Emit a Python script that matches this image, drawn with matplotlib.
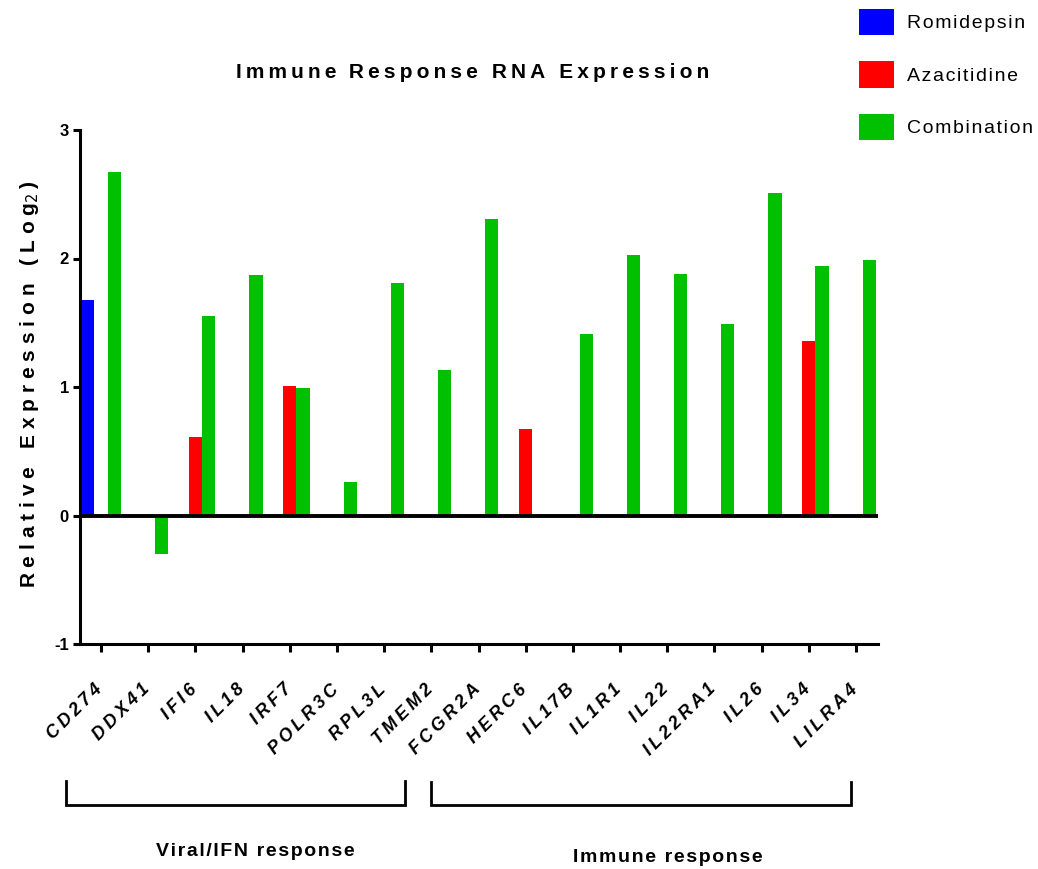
import numpy as np
import matplotlib
matplotlib.use("Agg")
import matplotlib.pyplot as plt
from matplotlib.lines import Line2D
from matplotlib.transforms import ScaledTranslation

plt.rcParams["font.family"] = ["Liberation Sans", "DejaVu Sans"]

# log2 relative expression per gene; nan = not reported for that treatment
genes = ["CD274", "DDX41", "IFI6", "IL18", "IRF7", "POLR3C", "RPL3L", "TMEM2",
         "FCGR2A", "HERC6", "IL17B", "IL1R1", "IL22", "IL22RA1", "IL26",
         "IL34", "LILRA4"]
nan = np.nan
romidepsin = [1.68, nan, nan, nan, nan, nan, nan, nan,
              nan, nan, nan, nan, nan, nan, nan, nan, nan]
azacitidine = [nan, nan, 0.61, nan, 1.01, nan, nan, nan,
               nan, 0.67, nan, nan, nan, nan, nan, 1.36, nan]
combination = [2.67, -0.30, 1.55, 1.87, 0.99, 0.26, 1.81, 1.13,
               2.31, nan, 1.41, 2.03, 1.88, 1.49, 2.51, 1.94, 1.99]
series = ["Romidepsin", "Azacitidine", "Combination"]
colors = ["#0000ff", "#ff0000", "#00c000"]
groups = ["Viral/IFN response", "Immune response"]

THIN = "\u2009"
HAIR = "\u200a"


def spaced(s, sep=THIN):
    return sep.join(s)


W, H = 1038, 869
fig = plt.figure(figsize=(W / 100, H / 100), dpi=100)
ax = fig.add_axes([80 / W, 1 - 644 / H, 798 / W, 514 / H])

x = np.arange(len(genes))
bw = 0.282
for k, (vals, c, name) in enumerate(zip([romidepsin, azacitidine, combination],
                                        colors, series)):
    ax.bar(x + (k - 1) * bw, vals, width=bw, color=c, edgecolor="none",
           label=spaced(name, HAIR), zorder=2)

ax.axhline(0, color="k", lw=2.8, zorder=3)
ax.set_xlim(-0.445, 16.466)
ax.set_ylim(-1, 3)
ax.set_yticks([-1, 0, 1, 2, 3])
ax.set_yticklabels(["-1", "0", "1", "2", "3"], fontsize=12, fontweight="bold")
ax.set_xticks(x)
ax.set_xticklabels([])
for s in ["top", "right"]:
    ax.spines[s].set_visible(False)
for s in ["left", "bottom"]:
    ax.spines[s].set_linewidth(2.2)
ax.tick_params(axis="y", width=2.2, length=5, pad=3)
ax.tick_params(axis="x", width=2.2, length=6)

# slanted gene names, right end placed just under each tick
lbl_tr = ax.get_xaxis_transform() + ScaledTranslation(-7 / 100, -37 / 100,
                                                      fig.dpi_scale_trans)
for xi, g in zip(x, genes):
    ax.text(xi, 0, spaced(g), transform=lbl_tr, rotation=45, ha="right",
            va="top", rotation_mode="anchor", fontsize=13, fontweight="bold",
            fontstyle="italic")

fig.text(473 / W, 1 - 72 / H, spaced("Immune") + THIN * 3 + spaced("Response RNA Expression"),
         ha="center", va="center", fontsize=15, fontweight="bold")
fig.text(30 / W, 1 - 384 / H,
         spaced("Relative Expression (Log", THIN + HAIR) + "$_{2}$" + THIN + ")",
         rotation=90, ha="center", va="center", fontsize=15, fontweight="bold")

# group brackets under the gene labels
def bracket(x0, x1, y_top, y_bot):
    xs = [x0 / W, x0 / W, x1 / W, x1 / W]
    ys = [1 - y_top / H, 1 - y_bot / H, 1 - y_bot / H, 1 - y_top / H]
    fig.add_artist(Line2D(xs, ys, color="k", lw=2.0,
                          solid_joinstyle="miter"))


bracket(66, 405, 781, 805)
bracket(431, 851, 782, 805)
fig.text(255 / W, 1 - 852 / H, spaced(groups[0], HAIR), ha="center",
         va="center", fontsize=14, fontweight="bold")
fig.text(668 / W, 1 - 857 / H, spaced(groups[1], HAIR), ha="center",
         va="center", fontsize=14, fontweight="bold")

fig.legend(loc="upper left", bbox_to_anchor=(851 / W, 1 - 1 / H),
           frameon=False, fontsize=14, handlelength=1.8, handleheight=1.7,
           handletextpad=0.7, labelspacing=1.35, borderaxespad=0)

fig.savefig("out.png", dpi=100)
